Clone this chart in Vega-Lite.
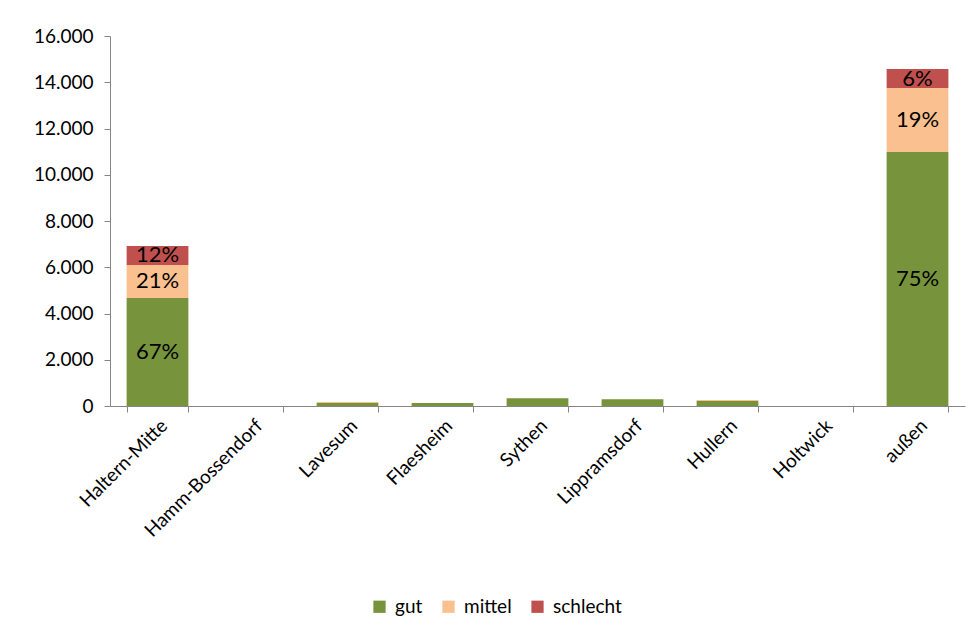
{
  "$schema": "https://vega.github.io/schema/vega-lite/v6.json",
  "width": 855,
  "height": 370,
  "autosize": {"type": "none"},
  "padding": {"left": 110, "top": 36, "right": 14, "bottom": 233},
  "background": "white",
  "config": {
    "font": "Lato",
    "view": {"stroke": null},
    "axis": {"labelFont": "Lato", "labelColor": "#000000", "domainColor": "#868686", "tickColor": "#868686", "grid": false}
  },
  "data": {
    "values": [
      {"ort": "Haltern-Mitte", "kat": "gut", "wert": 4670, "label": "67%"},
      {"ort": "Haltern-Mitte", "kat": "mittel", "wert": 1430, "label": "21%"},
      {"ort": "Haltern-Mitte", "kat": "schlecht", "wert": 820, "label": "12%"},
      {"ort": "Hamm-Bossendorf", "kat": "gut", "wert": 0, "label": ""},
      {"ort": "Hamm-Bossendorf", "kat": "mittel", "wert": 0, "label": ""},
      {"ort": "Hamm-Bossendorf", "kat": "schlecht", "wert": 0, "label": ""},
      {"ort": "Lavesum", "kat": "gut", "wert": 130, "label": ""},
      {"ort": "Lavesum", "kat": "mittel", "wert": 40, "label": ""},
      {"ort": "Lavesum", "kat": "schlecht", "wert": 0, "label": ""},
      {"ort": "Flaesheim", "kat": "gut", "wert": 130, "label": ""},
      {"ort": "Flaesheim", "kat": "mittel", "wert": 0, "label": ""},
      {"ort": "Flaesheim", "kat": "schlecht", "wert": 0, "label": ""},
      {"ort": "Sythen", "kat": "gut", "wert": 330, "label": ""},
      {"ort": "Sythen", "kat": "mittel", "wert": 0, "label": ""},
      {"ort": "Sythen", "kat": "schlecht", "wert": 0, "label": ""},
      {"ort": "Lippramsdorf", "kat": "gut", "wert": 290, "label": ""},
      {"ort": "Lippramsdorf", "kat": "mittel", "wert": 0, "label": ""},
      {"ort": "Lippramsdorf", "kat": "schlecht", "wert": 0, "label": ""},
      {"ort": "Hullern", "kat": "gut", "wert": 220, "label": ""},
      {"ort": "Hullern", "kat": "mittel", "wert": 40, "label": ""},
      {"ort": "Hullern", "kat": "schlecht", "wert": 0, "label": ""},
      {"ort": "Holtwick", "kat": "gut", "wert": 0, "label": ""},
      {"ort": "Holtwick", "kat": "mittel", "wert": 0, "label": ""},
      {"ort": "Holtwick", "kat": "schlecht", "wert": 0, "label": ""},
      {"ort": "außen", "kat": "gut", "wert": 10980, "label": "75%"},
      {"ort": "außen", "kat": "mittel", "wert": 2770, "label": "19%"},
      {"ort": "außen", "kat": "schlecht", "wert": 820, "label": "6%"}
    ]
  },
  "transform": [
    {"calculate": "indexof(['gut','mittel','schlecht'], datum.kat)", "as": "ord"},
    {"stack": "wert", "groupby": ["ort"], "sort": [{"field": "ord", "order": "ascending"}], "as": ["y0", "y1"]},
    {"calculate": "(datum.y0 + datum.y1) / 2", "as": "ymid"}
  ],
  "encoding": {
    "x": {
      "field": "ort",
      "type": "nominal",
      "sort": null,
      "scale": {"paddingInner": 0.35, "paddingOuter": 0.175},
      "axis": {"title": null, "labelAngle": -45, "labelFontSize": 19, "tickBand": "extent", "ticks": true, "tickSize": 6, "labelPadding": 4, "domainWidth": 1}
    }
  },
  "layer": [
    {
      "mark": {"type": "bar"},
      "encoding": {
        "y": {
          "field": "y1",
          "type": "quantitative",
          "scale": {"domain": [0, 16000]},
          "axis": {"title": null, "values": [0, 2000, 4000, 6000, 8000, 10000, 12000, 14000, 16000], "labelExpr": "replace(format(datum.value, ','), ',', '.')", "labelFontSize": 19, "tickSize": 6, "labelPadding": 11}
        },
        "y2": {"field": "y0"},
        "color": {
          "field": "kat",
          "type": "nominal",
          "scale": {"domain": ["gut", "mittel", "schlecht"], "range": ["#77933C", "#FAC090", "#C0504D"]},
          "legend": {"title": null, "orient": "none", "legendX": 260, "legendY": 561, "direction": "horizontal", "symbolType": "square", "symbolSize": 150, "symbolStrokeWidth": 0, "labelFontSize": 19, "labelColor": "#000000", "labelOffset": 6, "columnPadding": 16}
        }
      }
    },
    {
      "mark": {"type": "text", "fontSize": 22, "color": "#000000", "baseline": "middle", "align": "center"},
      "encoding": {
        "y": {"field": "ymid", "type": "quantitative"},
        "text": {"field": "label"}
      }
    }
  ]
}
